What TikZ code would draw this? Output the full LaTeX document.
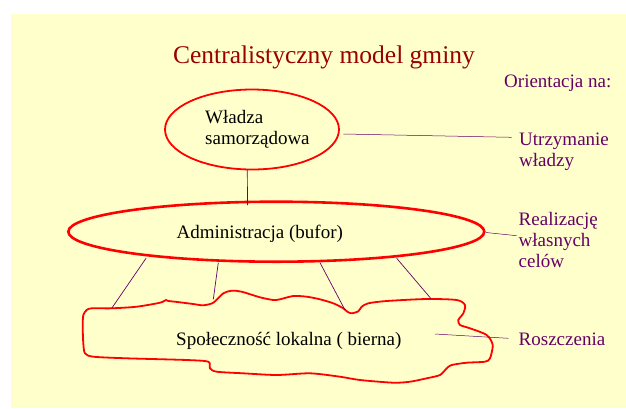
\documentclass[tikz,border=0pt]{standalone}
\usepackage{fontspec}
\setmainfont{Liberation Serif}
\usetikzlibrary{shapes.geometric}
\definecolor{bgyellow}{HTML}{FFFFCC}
\definecolor{titlered}{HTML}{990000}
\definecolor{plum}{HTML}{660066}
\definecolor{shapered}{HTML}{FF0000}
\begin{document}
\begin{tikzpicture}[x=1pt,y=-1pt,
  redshape/.style={draw=shapered, shape=ellipse, inner sep=0pt},
  conn/.style={draw=plum, line width=0.7pt},
  sidetext/.style={text=plum, font=\fontsize{19}{21}\selectfont, anchor=base west, align=left, inner sep=0pt},
  bodytext/.style={text=black, font=\fontsize{19}{21}\selectfont, anchor=base west, align=left, inner sep=0pt},
]
\useasboundingbox (0,0) rectangle (626,408);
\fill[white] (0,0) rectangle (626,408);
\fill[bgyellow] (11,14) rectangle (626,408);

\node[text=titlered, font=\fontsize{25.5}{30}\selectfont, anchor=base, inner sep=0pt] (title) at (324,63.3) {Centralistyczny model gminy};

\node[redshape, line width=1.8pt, minimum width=174pt, minimum height=80pt] (wl) at (252,129.5) {};
% base anchor of a multi-line node = baseline of its last line
\node[bodytext] (wltxt) at (205,144) {Władza\\samorządowa};

\node[redshape, line width=2.6pt, minimum width=416pt, minimum height=60pt] (adm) at (276.3,231.7) {};
\node[bodytext] (admtxt) at (176.5,238.3) {Administracja (bufor)};

\draw[shapered, line width=1.8pt] plot[smooth cycle, tension=0.45] coordinates {
 (86.7,310) (91.7,308.3) (111.7,308.3) (136.7,306.7) (160,302.7) (166,300) (168.3,301)
 (175,301.7) (193.3,304) (203.3,305.3) (213.3,302.7) (223.3,293.3) (231.7,290.7)
 (241.7,291.7) (260,297.3) (273.3,300) (280,299.3) (293.3,296) (306.7,296.7) (320,299.3)
 (333.3,303.3) (343.3,308.3) (347.3,311.7) (351.7,313.3) (358.3,311.3) (361.7,306.7)
 (368.3,303.3) (386.7,301) (426.7,299) (456.7,300) (465,305) (463.3,313.3) (458.3,320)
 (460,325) (470,328.3) (486.7,335) (492.7,345) (490,358.3) (485,361.7) (466.7,362.7)
 (451.7,365) (446.7,368.3) (440,375) (426.7,378.3) (410,381.7) (393.3,382.7) (360,380)
 (340,376.7) (310,373.3) (276.7,375) (243.3,373.3) (216.7,371.7) (210,368.3) (208.3,361.7)
 (186.7,360) (126.7,358.3) (93.3,356.7) (85,353.3) (83.3,343.3) (82.7,326.7) (83.3,315)};
\node[bodytext] (spo) at (176,345) {Społeczność lokalna ( bierna)};

\node[sidetext] (orient) at (504,87.3) {Orientacja na:};
\node[sidetext] (utrz) at (519,166) {Utrzymanie\\władzy};
\node[sidetext] (real) at (518.5,267) {Realizację\\własnych\\celów};
\node[sidetext] (rosz) at (518.5,345) {Roszczenia};

\coordinate (wlb) at (247.3,169.5);
\coordinate (admt) at (247.5,205);
\draw[conn] (wlb) -- (admt);

\coordinate (c1a) at (146,258.3); \coordinate (c1b) at (111.7,308.3);
\coordinate (c2a) at (218.3,262.7); \coordinate (c2b) at (213.3,299.3);
\coordinate (c3a) at (320,262.7); \coordinate (c3b) at (345,310);
\coordinate (c4a) at (396.7,258.3); \coordinate (c4b) at (430.7,298.3);
\draw[conn] (c1a) -- (c1b);
\draw[conn] (c2a) -- (c2b);
\draw[conn] (c3a) -- (c3b);
\draw[conn] (c4a) -- (c4b);

\coordinate (u1) at (343.3,134); \coordinate (u2) at (511.7,137.3);
\coordinate (r1) at (486,232.5); \coordinate (r2) at (516.7,235.7);
\coordinate (s1) at (435,334); \coordinate (s2) at (508.3,338.3);
\draw[conn, line width=0.5pt] (u1) -- (u2);
\draw[conn, line width=0.5pt] (r1) -- (r2);
\draw[conn, line width=0.5pt] (s1) -- (s2);
\end{tikzpicture}
\end{document}
